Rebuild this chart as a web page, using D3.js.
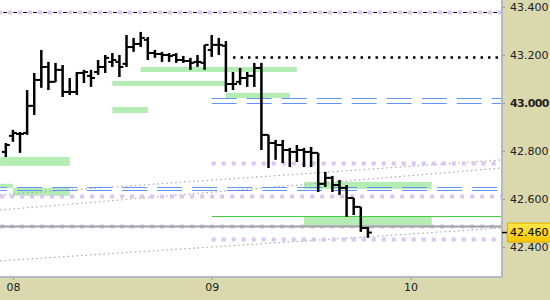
<!DOCTYPE html>
<html>
<head>
<meta charset="utf-8">
<script src="https://cdn.jsdelivr.net/npm/d3@7"></script>
<style>
  body { margin: 0; background: #fff; }
  svg { display: block; }
  text { font-family: "DejaVu Sans", Verdana, sans-serif; }
</style>
</head>
<body>
<div id="chart"></div>
<script>
// OHLC bars, one per index (28 bars per day)
var opens  = [42.796, 42.863, 42.871, 42.875, 42.988, 43.096, 43.150, 43.088, 43.138, 43.046,
              43.046, 43.125, 43.113, 43.129, 43.150, 43.171, 43.171, 43.163, 43.233, 43.246,
              43.263, 43.208, 43.204, 43.200, 43.200, 43.179, 43.175, 43.171, 43.167, 43.221,
              43.242, 43.238, 43.079, 43.088, 43.104, 43.113, 43.146, 42.867, 42.833, 42.825,
              42.804, 42.796, 42.804, 42.796, 42.792, 42.663, 42.688, 42.658, 42.646, 42.604,
              42.567, 42.479];
var highs  = [42.833, 42.888, 42.879, 43.054, 43.125, 43.221, 43.171, 43.167, 43.158, 43.104,
              43.129, 43.138, 43.138, 43.179, 43.200, 43.208, 43.200, 43.283, 43.271, 43.296,
              43.275, 43.221, 43.213, 43.208, 43.208, 43.196, 43.188, 43.200, 43.242, 43.283,
              43.271, 43.258, 43.129, 43.146, 43.129, 43.167, 43.167, 42.867, 42.846, 42.846,
              42.813, 42.825, 42.813, 42.817, 42.792, 42.713, 42.696, 42.679, 42.658, 42.604,
              42.567, 42.483];
var lows   = [42.775, 42.838, 42.792, 42.867, 42.950, 43.063, 43.054, 43.088, 43.025, 43.033,
              43.033, 43.083, 43.067, 43.117, 43.125, 43.150, 43.108, 43.150, 43.213, 43.233,
              43.179, 43.188, 43.171, 43.171, 43.167, 43.167, 43.138, 43.150, 43.138, 43.192,
              43.200, 43.046, 43.054, 43.075, 43.067, 43.067, 42.804, 42.729, 42.763, 42.750,
              42.733, 42.754, 42.733, 42.733, 42.629, 42.650, 42.629, 42.617, 42.525, 42.533,
              42.463, 42.438];
var closes = [42.825, 42.875, 42.871, 42.988, 43.096, 43.150, 43.088, 43.138, 43.046, 43.046,
              43.125, 43.129, 43.104, 43.150, 43.188, 43.179, 43.150, 43.233, 43.246, 43.271,
              43.208, 43.204, 43.200, 43.196, 43.179, 43.175, 43.167, 43.171, 43.242, 43.242,
              43.242, 43.079, 43.079, 43.104, 43.113, 43.146, 42.867, 42.833, 42.825, 42.804,
              42.796, 42.804, 42.796, 42.792, 42.663, 42.688, 42.658, 42.646, 42.604, 42.567,
              42.479, 42.460];

// day ticks (bar index of first bar of each day)
var dayBars = [1, 29, 57];
var dayLabels = ["08", "09", "10"];
var priceTicks = [42.4, 42.6, 42.8, 43.0, 43.2, 43.4];
var lastPrice = 42.460;

// horizontal levels: price and first bar index
var topLevel = 43.379;
var dottedPrices = [42.750, 42.6125, 42.4875, 42.432];
var dottedFrom   = [29, -0.8, -0.8, 29];
var highDotted = 43.193, highDottedFrom = 32;
var blueUpper = [43.019, 42.998], blueUpperFrom = 29;
var blueLower = [42.650, 42.636], blueLowerFrom = -0.8;
var grayLevel = 42.4875;
var greenLevel = 42.528, greenLevelFrom = 29;

// green zones
var zoneFrom   = [19, 15, 15, 31, -0.8, -0.8, 1, 42, 42];
var zoneTo     = [41, 31, 20, 40, 9, 1, 9, 60, 60];
var zoneTop    = [43.150, 43.092, 42.983, 43.042, 42.775, 42.663, 42.646, 42.671, 42.529];
var zoneBottom = [43.129, 43.071, 42.958, 43.021, 42.738, 42.646, 42.613, 42.642, 42.4875];

// dotted trend lines (start/end bar index, start/end price)
var trendFrom = [-0.8, -0.8, -0.8];
var trendTo   = [69.8, 69.8, 69.8];
var trendP0   = [42.617, 42.554, 42.342];
var trendP1   = [42.7625, 42.729, 42.479];

var width = 550, height = 300;
var plotW = 501, plotH = 276;

var svg = d3.select("#chart").append("svg")
  .attr("width", width)
  .attr("height", height);

svg.append("rect").attr("width", width).attr("height", height).attr("fill", "#d9d9ad");
svg.append("rect").attr("width", plotW).attr("height", plotH).attr("fill", "#fff");

svg.append("clipPath").attr("id", "plotclip")
  .append("rect").attr("width", plotW).attr("height", plotH);

var x = d3.scaleLinear().domain([-0.82, 69.75]).range([0, plotW]);
var y = d3.scaleLinear().domain([42.279, 43.429]).range([plotH, 0]);

var g = svg.append("g").attr("clip-path", "url(#plotclip)");
var xEnd = x.domain()[1];

// zones
g.selectAll("rect.zone")
  .data(zoneFrom.map(function(d, i) { return {a: d, b: zoneTo[i], t: zoneTop[i], u: zoneBottom[i]}; }))
  .enter().append("rect")
  .attr("x", function(d) { return x(d.a); })
  .attr("width", function(d) { return x(d.b) - x(d.a); })
  .attr("y", function(d) { return y(d.t); })
  .attr("height", function(d) { return y(d.u) - y(d.t); })
  .attr("fill", "#b4ecb4");

// trend lines
trendFrom.forEach(function(d, i) {
  g.append("line")
    .attr("x1", x(d)).attr("x2", x(trendTo[i]))
    .attr("y1", y(trendP0[i])).attr("y2", y(trendP1[i]))
    .attr("stroke", "#aaa").attr("stroke-width", 1.2)
    .attr("stroke-dasharray", "1.5,3");
});

function hline(price, from, color, w, dash, offset) {
  var l = g.append("line")
    .attr("x1", x(from)).attr("x2", x(xEnd))
    .attr("y1", Math.round(y(price)) + 0.5).attr("y2", Math.round(y(price)) + 0.5)
    .attr("stroke", color).attr("stroke-width", w);
  if (dash) l.attr("stroke-dasharray", dash);
  if (offset) l.attr("stroke-dashoffset", offset);
  return l;
}

// blue double dashed levels
blueUpper.forEach(function(p) { hline(p, blueUpperFrom, "#6495ed", 1, "25,10"); });
blueLower.forEach(function(p) { hline(p, blueLowerFrom, "#6495ed", 1, "25,10", 18); });

// green level
hline(greenLevel, greenLevelFrom, "#44cc44", 1);

// lavender dotted levels
dottedPrices.forEach(function(p, i) { hline(p, dottedFrom[i], "#dcc4f2", 4, "4,6"); });
hline(grayLevel, -0.8, "#a0a0a0", 2);

// top level: black dashes between lavender squares
hline(topLevel, -0.8, "#dcc4f2", 4, "4,6", 2);
hline(topLevel, -0.8, "#000", 1, "4,6", -3);

// black dotted high
hline(highDotted, highDottedFrom, "#000", 2.5, "2.5,5");

// OHLC bars
var bars = opens.map(function(o, i) { return {i: i, o: o, h: highs[i], l: lows[i], c: closes[i]}; });
var bg = g.append("g").attr("stroke", "#000");
bars.forEach(function(d) {
  var cx = x(d.i);
  bg.append("line").attr("x1", cx).attr("x2", cx)
    .attr("y1", y(d.h)).attr("y2", y(d.l)).attr("stroke-width", 2.5);
  bg.append("line").attr("x1", cx - 4).attr("x2", cx)
    .attr("y1", y(d.o)).attr("y2", y(d.o)).attr("stroke-width", 2);
  bg.append("line").attr("x1", cx).attr("x2", cx + 4)
    .attr("y1", y(d.c)).attr("y2", y(d.c)).attr("stroke-width", 2);
});

// right axis
var yAxis = d3.axisRight(y)
  .tickValues(priceTicks)
  .tickFormat(d3.format(".3f"))
  .tickSize(4)
  .tickPadding(5);

var ya = svg.append("g")
  .attr("transform", "translate(" + plotW + ",0)")
  .call(yAxis);
ya.select(".domain").remove();
ya.selectAll(".tick line").attr("stroke", "#999");
ya.selectAll(".tick text")
  .attr("fill", "#222")
  .style("font-size", "11px")
  .style("font-weight", function(d) { return d === 43.0 ? "bold" : "normal"; })
  .style("letter-spacing", function(d) { return d === 43.0 ? "-0.6px" : null; });

// bottom axis
var xAxis = d3.axisBottom(x)
  .tickValues(dayBars)
  .tickFormat(function(d, i) { return dayLabels[i]; })
  .tickSize(4)
  .tickPadding(3);

var xa = svg.append("g")
  .attr("transform", "translate(0," + plotH + ")")
  .call(xAxis);
xa.select(".domain").remove();
xa.selectAll(".tick line").attr("stroke", "#999");
xa.selectAll(".tick text").attr("fill", "#222").style("font-size", "11px");

// plot border
svg.append("line").attr("x1", 0).attr("x2", plotW + 1)
  .attr("y1", plotH + 1).attr("y2", plotH + 1)
  .attr("stroke", "#b8b8c0").attr("stroke-width", 2);
svg.append("line").attr("x1", plotW + 1).attr("x2", plotW + 1)
  .attr("y1", 0).attr("y2", plotH + 2)
  .attr("stroke", "#b8b8c0").attr("stroke-width", 2);

// last price marker
var ly = y(lastPrice);
var grad = svg.append("defs").append("linearGradient")
  .attr("id", "lastgrad").attr("x1", 0).attr("x2", 0).attr("y1", 0).attr("y2", 1);
grad.append("stop").attr("offset", "0%").attr("stop-color", "#ffe84a");
grad.append("stop").attr("offset", "100%").attr("stop-color", "#f7c600");
svg.append("line").attr("x1", plotW + 1).attr("x2", plotW + 6)
  .attr("y1", ly).attr("y2", ly).attr("stroke", "#000").attr("stroke-width", 1.5);
svg.append("rect")
  .attr("x", 507.5).attr("y", ly - 9.5)
  .attr("width", 43).attr("height", 19)
  .attr("fill", "url(#lastgrad)").attr("stroke", "#e0b000");
svg.append("text")
  .attr("x", 510).attr("y", ly)
  .attr("dy", "0.32em")
  .attr("fill", "#000")
  .style("font-size", "11px")
  .text(d3.format(".3f")(lastPrice));
</script>
</body>
</html>
